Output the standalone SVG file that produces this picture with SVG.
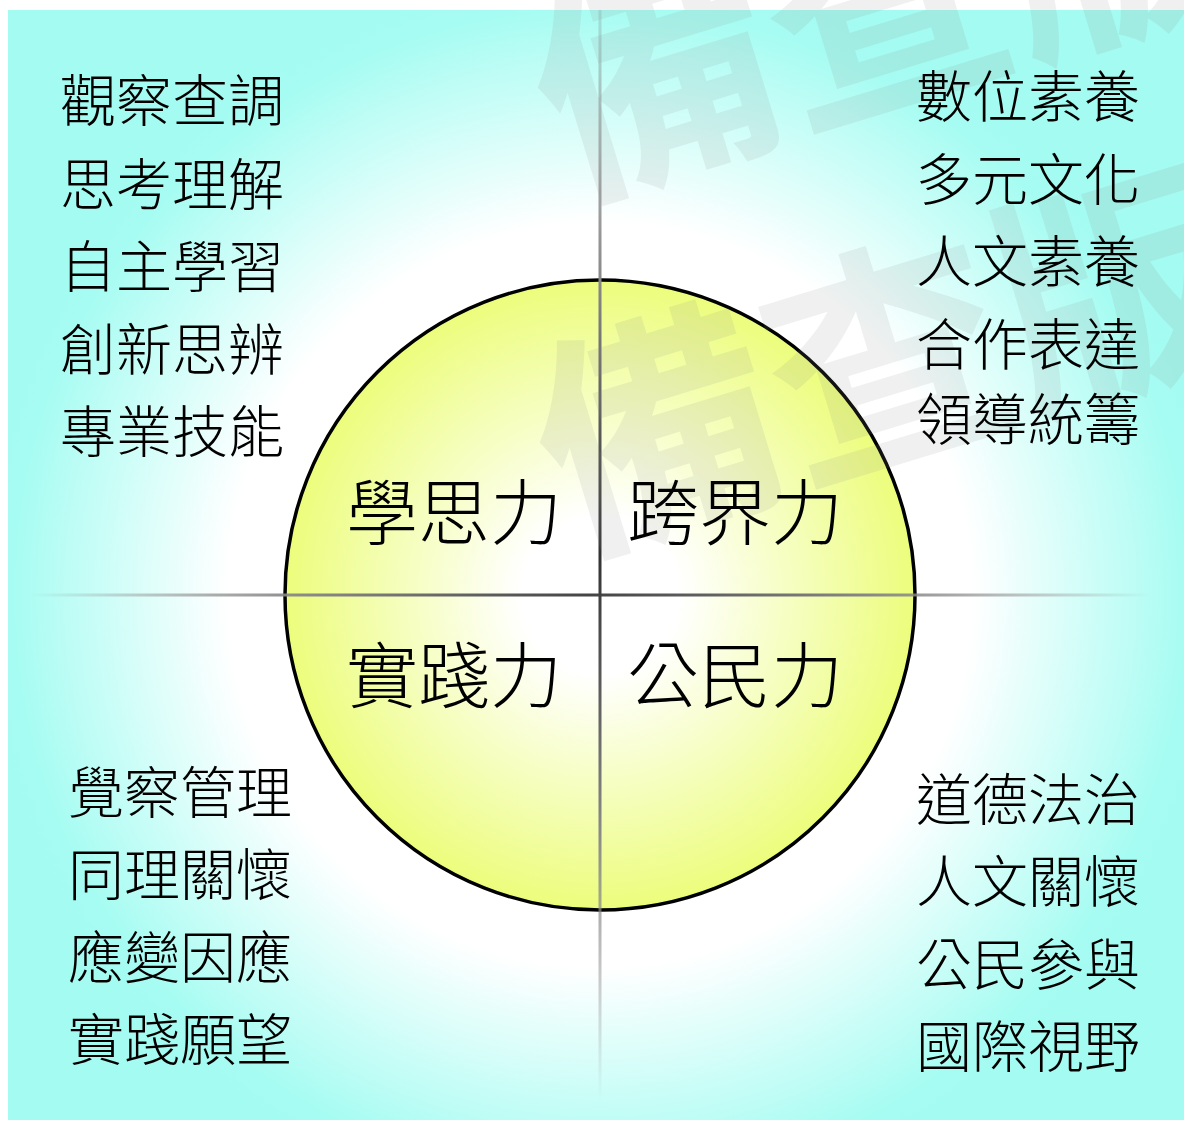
<svg xmlns="http://www.w3.org/2000/svg" width="1184" height="1122" viewBox="0 0 1184 1122">
<defs>
<radialGradient id="bg" gradientUnits="userSpaceOnUse" cx="600" cy="595" r="620">
<stop offset="0" stop-color="#ffffff"/>
<stop offset="0.6" stop-color="#ffffff"/>
<stop offset="0.95" stop-color="#a6fcf2"/>
<stop offset="1" stop-color="#a4fbf1"/>
</radialGradient>
<radialGradient id="disc" gradientUnits="userSpaceOnUse" cx="600" cy="595" r="315">
<stop offset="0" stop-color="#ffffff"/>
<stop offset="0.25" stop-color="#ffffff"/>
<stop offset="1" stop-color="#ecfd7c"/>
</radialGradient>
<linearGradient id="hl" gradientUnits="userSpaceOnUse" x1="30" y1="0" x2="1150" y2="0">
<stop offset="0" stop-color="#777" stop-opacity="0"/>
<stop offset="0.25" stop-color="#888" stop-opacity="1"/>
<stop offset="0.5" stop-color="#444"/>
<stop offset="0.75" stop-color="#888" stop-opacity="1"/>
<stop offset="1" stop-color="#777" stop-opacity="0"/>
</linearGradient>
<linearGradient id="vl" gradientUnits="userSpaceOnUse" x1="0" y1="10" x2="0" y2="1100">
<stop offset="0" stop-color="#777" stop-opacity="0.2"/>
<stop offset="0.25" stop-color="#888" stop-opacity="1"/>
<stop offset="0.5" stop-color="#333"/>
<stop offset="0.75" stop-color="#888" stop-opacity="1"/>
<stop offset="1" stop-color="#888" stop-opacity="0"/>
</linearGradient>
</defs>
<style>
text{font-family:"Noto Sans CJK TC","Noto Sans CJK SC",sans-serif;font-weight:300;fill:#000;dominant-baseline:central}
.item{font-size:56px}
.core{font-size:72px}
.wm{font-size:240px;font-weight:bold;fill:#888;fill-opacity:0.13;text-anchor:middle}
</style>
<rect x="8" y="10" width="1176" height="1110" fill="url(#bg)"/>
<g id="circle">
<circle cx="600" cy="595" r="315" fill="url(#disc)" stroke="#000" stroke-width="3.5"/>
</g>
<g id="connectors">
<line x1="30" y1="595" x2="1150" y2="595" stroke="url(#hl)" stroke-width="3"/>
<line x1="600" y1="10" x2="600" y2="1100" stroke="url(#vl)" stroke-width="3"/>
</g>
<g id="watermark">
<text class="wm" transform="translate(880,-10) rotate(-17)">備查版</text>
<text class="wm" transform="translate(882,345) rotate(-17)">備查版</text>
</g>
<g id="core">
<text class="core" x="346" y="507">學思力</text>
<text class="core" x="627" y="507">跨界力</text>
<text class="core" x="346" y="670">實踐力</text>
<text class="core" x="627" y="670">公民力</text>
</g>
<g id="top-left">
<text class="item" x="60" y="96">觀察查調</text>
<text class="item" x="60" y="180">思考理解</text>
<text class="item" x="60" y="262">自主學習</text>
<text class="item" x="60" y="345">創新思辨</text>
<text class="item" x="60" y="427">專業技能</text>
</g>
<g id="top-right">
<text class="item" x="916" y="92">數位素養</text>
<text class="item" x="916" y="175">多元文化</text>
<text class="item" x="916" y="257">人文素養</text>
<text class="item" x="916" y="340">合作表達</text>
<text class="item" x="916" y="415">領導統籌</text>
</g>
<g id="bottom-left">
<text class="item" x="68" y="788">覺察管理</text>
<text class="item" x="68" y="870">同理關懷</text>
<text class="item" x="68" y="953">應變因應</text>
<text class="item" x="68" y="1035">實踐願望</text>
</g>
<g id="bottom-right">
<text class="item" x="916" y="795">道德法治</text>
<text class="item" x="916" y="877">人文關懷</text>
<text class="item" x="916" y="960">公民參與</text>
<text class="item" x="916" y="1042">國際視野</text>
</g>
</svg>
